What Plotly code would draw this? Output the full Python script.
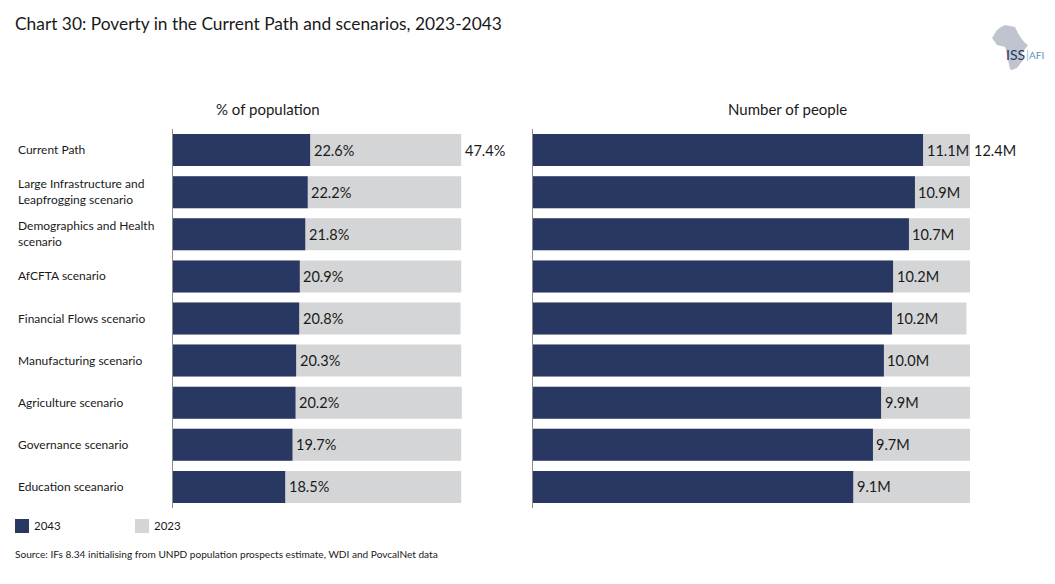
import plotly.graph_objects as go

W, H = 1055, 584
FONT = "Lato, Carlito, Calibri, sans-serif"
NAVY = "#293862"
GREY = "#D4D5D7"
TXT = "#1a1a1a"

scenarios = ["Current Path", "Large Infrastructure and<br>Leapfrogging scenario",
             "Demographics and Health<br>scenario", "AfCFTA scenario", "Financial Flows scenario",
             "Manufacturing scenario", "Agriculture scenario", "Governance scenario", "Education sceanario"]
pct_2043 = [22.6, 22.2, 21.8, 20.9, 20.8, 20.3, 20.2, 19.7, 18.5]
pct_2023 = [47.4, 47.4, 47.4, 47.4, 47.3, 47.4, 47.5, 47.4, 47.4]
num_2043 = [11.1, 10.9, 10.7, 10.2, 10.2, 10.0, 9.9, 9.7, 9.1]
num_2023 = [12.4, 12.4, 12.4, 12.4, 12.3, 12.4, 12.4, 12.4, 12.4]
num_bar_2043 = [11.07, 10.84, 10.67, 10.22, 10.19, 9.96, 9.88, 9.65, 9.09]


def px(x):
    return x / W


def py(y):
    return 1 - y / H


rows = list(range(9))
fig = go.Figure()
panels = [("x", pct_2043, pct_2023, pct_2043, "{:.1f}%"), ("x2", num_bar_2043, num_2023, num_2043, "{:.1f}M")]
for i, (xa, dark, light, lab, fmt) in enumerate(panels):
    ya = "y" if i == 0 else "y2"
    fig.add_trace(go.Bar(y=rows, x=light, orientation="h", marker=dict(color=GREY, line_width=0),
                         xaxis=xa, yaxis=ya, name="2023", showlegend=False, hoverinfo="skip"))
    fig.add_trace(go.Bar(y=rows, x=dark, orientation="h", marker=dict(color=NAVY, line_width=0),
                         xaxis=xa, yaxis=ya, name="2043", showlegend=False, hoverinfo="skip"))
    for r, d, v in zip(rows, dark, lab):
        fig.add_annotation(x=d, y=r, xref=xa, yref=ya, text=fmt.format(v), showarrow=False, xanchor="left",
                           yanchor="middle", xshift=1.5, yshift=0,
                           font=dict(family=FONT, size=14.5, color=TXT))
    fig.add_annotation(x=light[0], y=0, xref=xa, yref=ya, text=fmt.format(light[0]), showarrow=False,
                       xanchor="left", yanchor="middle", xshift=1.5 if i == 0 else 2.5, yshift=0,
                       font=dict(family=FONT, size=14.5, color=TXT))

ydom = [py(508), py(129)]
yaxis = dict(range=[8.5, -0.5], domain=ydom, showgrid=False, zeroline=False, showticklabels=False,
             ticks="", showline=True, linecolor="#8c8c8c", linewidth=1)
left_span = 347.5 / 6.09
right_span = 517.5 / 35.28
xbase = dict(showgrid=False, zeroline=False, showticklabels=False, ticks="", showline=False, anchor="free")
fig.update_layout(
    width=W, height=H, margin=dict(l=0, r=0, t=0, b=0), autosize=False,
    paper_bgcolor="white", plot_bgcolor="white", barmode="overlay", bargap=0.24,
    font=dict(family=FONT, color=TXT),
    xaxis=dict(xbase, domain=[px(172.5), px(520)], range=[0, left_span], position=py(508)),
    xaxis2=dict(xbase, domain=[px(532.5), px(1050)], range=[0, right_span], position=py(508)),
    yaxis=dict(yaxis, anchor="x"),
    yaxis2=dict(yaxis, anchor="x2"),
    showlegend=False,
)


def note(x, y, text, size, anchor="left", color=TXT, **kw):
    fig.add_annotation(x=px(x), y=py(y), xref="paper", yref="paper", text=text, showarrow=False,
                       xanchor=anchor, yanchor="middle", align=anchor,
                       font=dict(family=FONT, size=size, color=color), **kw)


note(13, 24, "Chart 30: Poverty in the Current Path and scenarios, 2023-2043", 17.35)
note(268, 109, "% of population", 15, "center")
note(787.5, 109, "Number of people", 15, "center")
for i, s in enumerate(scenarios):
    fig.add_annotation(x=px(16), y=i, xref="paper", yref="y", text=s, showarrow=False, xanchor="left",
                       yanchor="middle", align="left", yshift=0.5,
                       font=dict(family=FONT, size=12, color=TXT))

# Legend
fig.add_shape(type="rect", xref="paper", yref="paper", x0=px(15), x1=px(29), y0=py(533), y1=py(519),
              fillcolor=NAVY, line_width=0)
fig.add_shape(type="rect", xref="paper", yref="paper", x0=px(135), x1=px(149), y0=py(533), y1=py(519),
              fillcolor=GREY, line_width=0)
note(32, 525.5, "2043", 11.5)
note(152, 525.5, "2023", 11.5)
note(13, 554, "Source: IFs 8.34 initialising from UNPD population prospects estimate, WDI and PovcalNet data", 10.1)

# Logo
africa = [(997, 30), (1001, 27), (1005, 25), (1010, 26), (1015, 27), (1018, 33), (1021, 38), (1025, 43), (1028, 45),
          (1025, 49), (1022, 53), (1023, 60), (1017, 68), (1012, 70), (1010, 69), (1008, 60), (1006, 50), (1005, 47),
          (997, 45), (992, 38)]
path = "M " + " L ".join(f"{px(a):.4f},{py(b):.4f}" for a, b in africa) + " Z"
fig.add_shape(type="path", xref="paper", yref="paper", path=path, fillcolor="#BFC4CE", line_width=0)
note(1004, 55, "ISS", 14, color="#1F3864")
note(1024, 55, "|", 11, color="#8FB4D0")
note(1027, 55, "AFI", 10, color="#5B93B8")

fig.write_html("out.html", config=dict(displayModeBar=False), post_script="document.body.style.margin='0';")
